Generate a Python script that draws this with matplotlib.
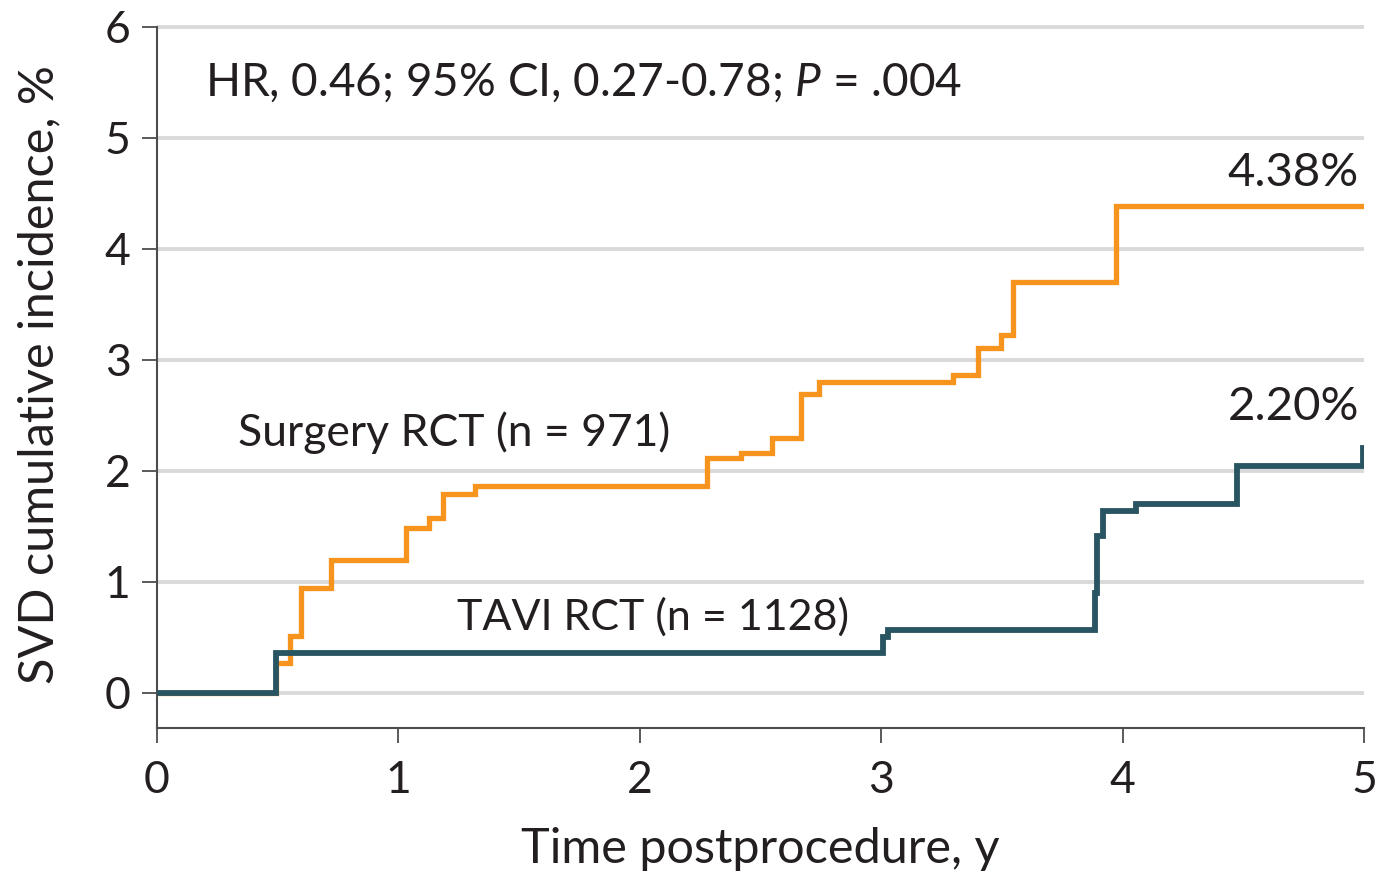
import matplotlib
matplotlib.use("Agg")
import matplotlib.pyplot as plt

# Kaplan-Meier style step data (time in years, cumulative incidence in %)
surgery_t = [0, 0.494, 0.55, 0.598, 0.72, 1.03, 1.127, 1.184, 1.317, 2.28, 2.42,
             2.546, 2.67, 2.742, 3.297, 3.40, 3.497, 3.545, 3.973, 5.0]
surgery_y = [0, 0.27, 0.51, 0.94, 1.19, 1.48, 1.57, 1.79, 1.865, 2.11, 2.16,
             2.29, 2.69, 2.80, 2.865, 3.105, 3.225, 3.70, 4.38, 4.38]

tavi_t = [0, 0.494, 3.009, 3.03, 3.886, 3.893, 3.917, 4.056, 4.475, 4.995, 5.0]
tavi_y = [0, 0.36, 0.50, 0.565, 0.90, 1.41, 1.64, 1.70, 2.045, 2.20, 2.20]

x_ticks = [0, 1, 2, 3, 4, 5]
y_ticks = [0, 1, 2, 3, 4, 5, 6]

orange = "#f7941d"
teal = "#295563"
txt = "#231f20"

plt.rcParams['font.family'] = ['Lato', 'DejaVu Sans']
plt.rcParams['mathtext.fontset'] = 'custom'
plt.rcParams['mathtext.rm'] = 'Lato'
plt.rcParams['mathtext.it'] = 'Lato:italic'

fig = plt.figure(figsize=(13.79, 8.73), dpi=100)
ax = fig.add_axes([0.1138, 0.166, 0.8753, 0.810])

for yv in y_ticks:
    ax.axhline(yv, color="#d9d9d9", lw=2.8, zorder=1)

ax.plot(surgery_t, surgery_y, drawstyle='steps-post', color=orange, lw=3.8,
        solid_joinstyle='miter', zorder=3)
ax.plot(tavi_t, tavi_y, drawstyle='steps-post', color=teal, lw=4.2,
        solid_joinstyle='miter', zorder=4)

ax.set_xlim(0, 5.0)
ax.set_ylim(-0.32, 6.05)
ax.set_xticks(x_ticks)
ax.set_yticks(y_ticks)

for s in ['top', 'right']:
    ax.spines[s].set_visible(False)
ax.spines['left'].set_bounds(-0.32, 6)
ax.spines['bottom'].set_bounds(0, 5)
for s in ['left', 'bottom']:
    ax.spines[s].set_color("#4d4d4d")
    ax.spines[s].set_linewidth(1.5)

ax.tick_params(axis='both', colors="#4d4d4d", labelcolor=txt, labelsize=32,
               length=11, width=1.3)
ax.tick_params(axis='y', pad=8)
ax.tick_params(axis='x', pad=12)

ax.set_xlabel("Time postprocedure, y", fontsize=35, color=txt, labelpad=19)
ax.set_ylabel("SVD cumulative incidence, %", fontsize=35, color=txt, labelpad=31)

ax.text(0.199, 5.49, "HR, 0.46; 95% CI, 0.27-0.78; $P$ = .004", fontsize=33,
        color=txt, va='center', ha='left')
ax.text(0.336, 2.34, "Surgery RCT (n = 971)", fontsize=32, color=txt,
        va='center', ha='left')
ax.text(1.243, 0.676, "TAVI RCT (n = 1128)", fontsize=31, color=txt,
        va='center', ha='left')
ax.text(4.98, 4.68, "4.38%", fontsize=34, color=txt, va='center', ha='right')
ax.text(4.98, 2.57, "2.20%", fontsize=34, color=txt, va='center', ha='right')

plt.savefig("out.png", dpi=100)
